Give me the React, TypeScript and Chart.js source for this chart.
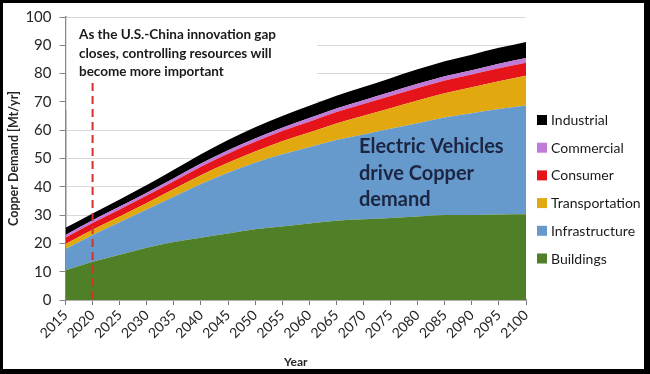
import React, { useEffect, useRef } from "react";
import { Chart, registerables } from "chart.js";

Chart.register(...registerables);

const years = ["2015", "2020", "2025", "2030", "2035", "2040", "2045", "2050", "2055", "2060", "2065", "2070", "2075", "2080", "2085", "2090", "2095", "2100"];

const buildings = [10.5, 13.5, 16, 18.5, 20.5, 22, 23.5, 25, 26, 27, 28, 28.5, 29, 29.5, 30, 30, 30.2, 30.3];
const infrastructure = [7.5, 9.5, 11.5, 13.5, 16, 19, 21.5, 23.5, 25.5, 27, 28.5, 30, 31.5, 33, 34.5, 36, 37.3, 38.4];
const transportation = [1.8, 1.8, 2, 2.3, 2.7, 3.1, 3.5, 4, 4.6, 5.2, 5.9, 6.6, 7.3, 8, 8.6, 9.2, 9.8, 10.5];
const consumer = [2.2, 2.4, 2.5, 2.6, 2.8, 3, 3.2, 3.4, 3.6, 3.8, 4, 4.2, 4.3, 4.4, 4.5, 4.5, 4.6, 4.6];
const commercial = [1, 1, 1, 1, 1, 1.1, 1.2, 1.2, 1.2, 1.3, 1.3, 1.3, 1.4, 1.5, 1.5, 1.5, 1.6, 1.7];
const industrial = [2.5, 2.4, 2.5, 2.7, 3, 3.3, 3.6, 3.9, 4.1, 4.3, 4.5, 4.7, 4.9, 5.1, 5.3, 5.5, 5.6, 5.7];

const seriesNames = ["Buildings", "Infrastructure", "Transportation", "Consumer", "Commercial", "Industrial"];
const seriesColors = ["#4f7f26", "#6699cc", "#e1a90f", "#e5141b", "#c07ad8", "#000000"];

const yMin = 0;
const yMax = 100;
const yStep = 10;

const markerYear = "2020";
const gapNote = ["As the U.S.-China innovation gap", "closes, controlling resources will", "become more important"];
const evNote = ["Electric Vehicles", "drive Copper", "demand"];
const yTitle = "Copper Demand [Mt/yr]";
const xTitle = "Year";

const FONT = "Lato, 'Liberation Sans', sans-serif";

const overlayPlugin = {
  id: "overlay",
  beforeDatasetsDraw(chart: any) {
    const { ctx, chartArea } = chart;
    ctx.save();
    ctx.fillStyle = "#ffffff";
    ctx.fillRect(chartArea.left + 1, 18, 317 - chartArea.left - 1, 92);
    ctx.restore();
  },
  afterDatasetsDraw(chart: any) {
    const { ctx, chartArea, scales } = chart;
    const xs = scales.x;
    ctx.save();
    const mx = xs.getPixelForValue(years.indexOf(markerYear));
    ctx.strokeStyle = "#d2332b";
    ctx.lineWidth = 2;
    ctx.setLineDash([8, 5]);
    ctx.beginPath();
    ctx.moveTo(mx, 83);
    ctx.lineTo(mx, chartArea.bottom);
    ctx.stroke();
    ctx.setLineDash([]);

    ctx.fillStyle = "#1a1a1a";
    ctx.font = `bold 13.5px ${FONT}`;
    ctx.textBaseline = "middle";
    ctx.textAlign = "left";
    gapNote.forEach((t, i) => ctx.fillText(t, 79, 35 + i * 18.5));

    ctx.fillStyle = "#1c2642";
    ctx.font = `bold 20px ${FONT}`;
    evNote.forEach((t, i) => ctx.fillText(t, 359, 147 + i * 26.5));

    ctx.font = `14px ${FONT}`;
    const ds = chart.data.datasets;
    for (let k = 0; k < ds.length; k++) {
      const d = ds[ds.length - 1 - k];
      const cy = 120 + k * 27.7;
      ctx.fillStyle = d.backgroundColor;
      ctx.fillRect(537, cy - 5, 10, 10);
      ctx.fillStyle = "#1a1a1a";
      ctx.fillText(d.label, 551, cy + 0.5);
    }
    ctx.restore();
  },
};

export default function App() {
  const ref = useRef<HTMLCanvasElement | null>(null);
  useEffect(() => {
    if (!ref.current) return;
    const data = [buildings, infrastructure, transportation, consumer, commercial, industrial];
    const chart = new Chart(ref.current, {
      type: "line",
      data: {
        labels: years,
        datasets: data.map((vals, i) => ({
          label: seriesNames[i],
          data: vals,
          backgroundColor: seriesColors[i],
          borderColor: seriesColors[i],
          borderWidth: 0,
          pointRadius: 0,
          fill: i === 0 ? "origin" : "-1",
          cubicInterpolationMode: "monotone" as const,
        })),
      },
      options: {
        animation: false,
        responsive: false,
        devicePixelRatio: 1,
        layout: { padding: { left: 3, right: 124, top: 12, bottom: 5 } },
        plugins: { legend: { display: false }, tooltip: { enabled: false } },
        scales: {
          x: {
            type: "category",
            offset: false,
            grid: { display: true, drawOnChartArea: false, drawTicks: true, tickLength: 5, tickColor: "#777" },
            border: { color: "#888", width: 1.5 },
            ticks: {
              autoSkip: false,
              minRotation: 45,
              maxRotation: 45,
              padding: 2,
              color: "#262626",
              font: { family: FONT, size: 14 },
            },
            title: { display: true, text: xTitle, color: "#262626", font: { family: FONT, size: 12, weight: "bold" }, padding: { top: 0, bottom: 0 } },
            afterFit: (s: any) => { s.height = 69; },
          },
          y: {
            stacked: true,
            min: yMin,
            max: yMax,
            grid: { color: "#d9d9d9", lineWidth: 1, tickLength: 6, tickColor: "#888" },
            border: { color: "#888", width: 1.5 },
            ticks: {
              stepSize: yStep,
              padding: 8,
              color: "#262626",
              font: { family: FONT, size: 15 },
            },
            title: { display: true, text: yTitle, color: "#262626", font: { family: FONT, size: 12.5, weight: "bold" }, padding: { top: 3, bottom: 0 } },
            afterFit: (s: any) => { s.width = 62.5; },
          },
        },
      },
      plugins: [overlayPlugin],
    });
    return () => chart.destroy();
  }, []);
  return (
    <div style={{ position: "fixed", left: 0, top: 0, width: 650, height: 374, background: "#fff" }}>
      <canvas ref={ref} width={650} height={374} style={{ display: "block", width: 650, height: 374 }} />
      <div
        style={{
          position: "absolute",
          left: 0,
          top: 0,
          width: 650,
          height: 374,
          boxSizing: "border-box",
          borderStyle: "solid",
          borderColor: "#000",
          borderWidth: "3px 6px 5px 3px",
          pointerEvents: "none",
        }}
      />
    </div>
  );
}
